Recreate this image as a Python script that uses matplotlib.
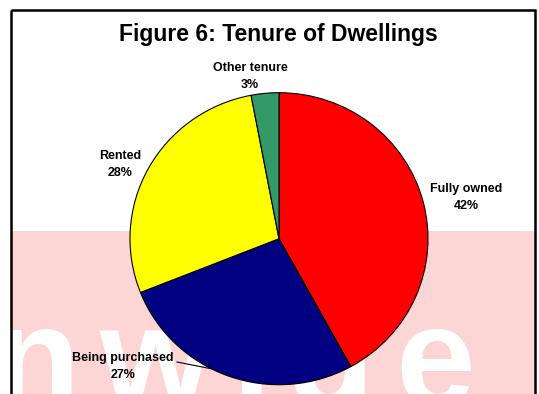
import numpy as np
import matplotlib.pyplot as plt
from matplotlib.patches import Rectangle

# tenure shares, drawn clockwise from 12 o'clock
categories = ["Fully owned", "Being purchased", "Rented", "Other tenure"]
shares = [42, 27, 28, 3]
colors = ["#ff0000", "#000080", "#ffff00", "#339966"]

# label anchor (pixel x, first-line baseline y)
label_pos = {
    "Fully owned": (466, 192),
    "Being purchased": (123, 361),
    "Rented": (120, 159),
    "Other tenure": (250, 71),
}

W, H = 539, 394
fig = plt.figure(figsize=(W / 100, H / 100), dpi=100)
fig.patch.set_facecolor("white")

# background layer in pixel units
bg = fig.add_axes([0, 0, 1, 1])
bg.set_xlim(0, W)
bg.set_ylim(H, 0)
bg.axis("off")

bg.add_patch(Rectangle((11, 231), 524, 200, facecolor="#fdd5d5",
                       edgecolor="none", zorder=1))
for ch, x in zip("nwide", [36, 155, 252, 330, 435]):
    bg.text(x, 406, ch, ha="center", va="baseline", color="white",
            fontsize=103, fontweight="bold", family="Liberation Sans",
            zorder=2)
bg.add_patch(Rectangle((11, 9.5), 524, 420, facecolor="none",
                       edgecolor="black", linewidth=1.8, zorder=5))

# pie
cx, cy, rx, ry = 279, 238.7, 149, 146
ax = fig.add_axes([(cx - rx) / W, (H - cy - ry) / H, 2 * rx / W, 2 * ry / H])
ax.pie(shares, colors=colors, startangle=90, counterclock=False,
       wedgeprops=dict(edgecolor="black", linewidth=0.8))
ax.set_xlim(-1, 1)
ax.set_ylim(-1, 1)
ax.set_aspect("auto")
ax.axis("off")

fig.text(278, 41, "Figure 6: Tenure of Dwellings", transform=bg.transData,
         ha="center", va="baseline", fontsize=16.5, fontweight="bold",
         family="Liberation Sans")

for name, val in zip(categories, shares):
    x, y = label_pos[name]
    fig.text(x, y, name, transform=bg.transData, ha="center",
             va="baseline", fontsize=9, fontweight="bold",
             family="Liberation Sans")
    fig.text(x, y + 17, f"{val}%", transform=bg.transData, ha="center",
             va="baseline", fontsize=9, fontweight="bold",
             family="Liberation Sans")

# leader line from "Being purchased" to the pie rim
theta = np.deg2rad(243)
edge = bg.transData.inverted().transform(
    ax.transData.transform((np.cos(theta), np.sin(theta))))
bg.plot([177, edge[0]], [362, edge[1]], color="black", linewidth=0.8,
        zorder=4)

fig.savefig("out.png", dpi=100)
